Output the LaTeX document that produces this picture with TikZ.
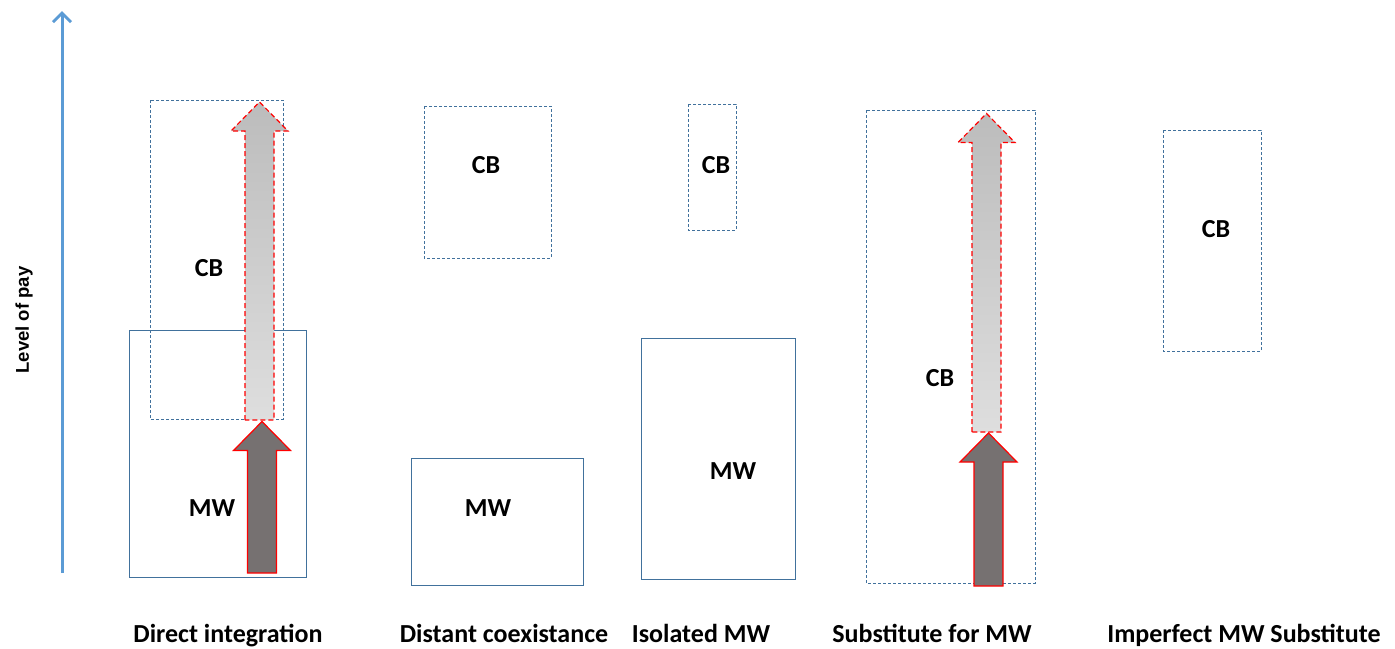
\documentclass[tikz,border=0pt]{standalone}
\usepackage{fontspec}
\setmainfont{Carlito}
\newfontfamily\axisfont{Liberation Sans}
\usetikzlibrary{arrows.meta}
\definecolor{boxblue}{RGB}{65,113,156}
\definecolor{axisblue}{RGB}{91,155,213}
\definecolor{mwgray}{RGB}{118,113,113}
\definecolor{cbtop}{RGB}{188,188,188}
\definecolor{cbbot}{RGB}{222,222,222}
% block arrow: [style]{x}{bottom}{tip}
\newcommand{\payarrow}[4][]{%
  \draw[#1] (#2-14.5,#3) -- (#2-14.5,#4+29) -- (#2-28.5,#4+29) -- (#2,#4)
    -- (#2+28.5,#4+29) -- (#2+14.5,#4+29) -- (#2+14.5,#3) -- cycle;}
\begin{document}
\begin{tikzpicture}[x=1pt,y=-1pt,font=\bfseries\fontsize{26}{30}\selectfont,
  mwbox/.style={draw=boxblue,line width=1pt},
  cbbox/.style={draw=boxblue,line width=1pt,dash pattern=on 3pt off 2pt},
  mwarrow/.style={fill=mwgray,draw=red,line width=1.2pt},
  cbarrow/.style={top color=cbtop,bottom color=cbbot,draw=red,line width=1.2pt,dash pattern=on 5pt off 3pt},
  caption/.style={anchor=base}]
 \path[use as bounding box] (0,0) rectangle (1395,648);
 % axis
 \coordinate (base) at (62,573);
 \coordinate (top) at (62,11);
 \draw[axisblue,line width=3pt,-{Straight Barb[length=9pt,width=18pt]}] (base) -- (top);
 \node[rotate=90,font=\axisfont\bfseries\fontsize{18.5}{22}\selectfont] (pay) at (24,320) {Level of pay};
 % direct integration
 \draw[mwbox] (129,330) rectangle (306,577);
 \draw[cbbox] (150,100) rectangle (283,419);
 \payarrow[cbarrow]{259.5}{420}{102}
 \payarrow[mwarrow]{262}{573}{421.5}
 \node (cb1) at (209,268) {CB};
 \node (mw1) at (212,508) {MW};
 % distant coexistance
 \draw[cbbox] (424,106) rectangle (551,258);
 \draw[mwbox] (411,458) rectangle (583,585);
 \node (cb2) at (486,165) {CB};
 \node (mw2) at (488,508) {MW};
 % isolated MW
 \draw[cbbox] (688,104) rectangle (736,230);
 \draw[mwbox] (641,338) rectangle (795,579);
 \node (cb3) at (716,165) {CB};
 \node (mw3) at (733,471) {MW};
 % substitute for MW
 \draw[cbbox] (866,110) rectangle (1035,583);
 \payarrow[cbarrow]{986.5}{432}{113.5}
 \payarrow[mwarrow]{988.5}{586}{433}
 \node (cb4) at (940,378) {CB};
 % imperfect substitute
 \draw[cbbox] (1163,130) rectangle (1261,351);
 \node (cb5) at (1216,229) {CB};
 % captions
 \node[caption] (l1) at (228,642) {Direct integration};
 \node[caption] (l2) at (504,642) {Distant coexistance};
 \node[caption] (l3) at (701,642) {Isolated MW};
 \node[caption] (l4) at (932,642) {Substitute for MW};
 \node[caption] (l5) at (1244,642) {Imperfect MW Substitute};
\end{tikzpicture}
\end{document}
